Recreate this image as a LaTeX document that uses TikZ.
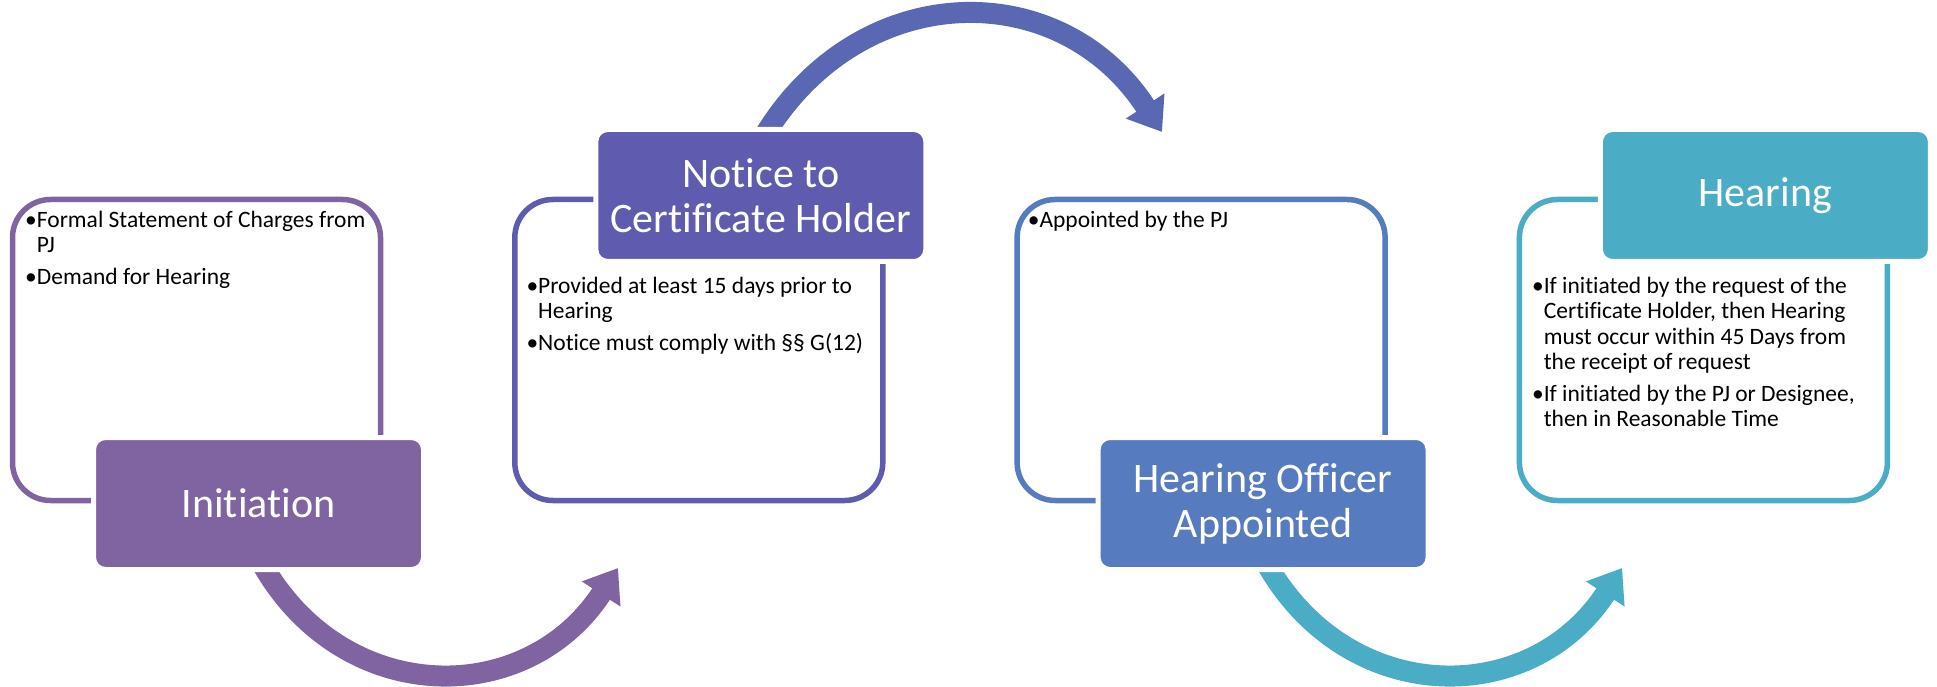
\documentclass[tikz,border=0pt]{standalone}
\usepackage{fontspec}
\setmainfont[Ligatures=NoCommon]{Carlito}
\usepackage{xcolor}
\usetikzlibrary{positioning, arrows.meta, backgrounds}
\definecolor{cinit}{HTML}{8064A2}
\definecolor{cnotice}{HTML}{5F5BAE}
\definecolor{carrow}{HTML}{5A68B4}
\definecolor{cofficer}{HTML}{567BBE}
\definecolor{chear}{HTML}{4BACC6}

\begin{document}
\begin{tikzpicture}[x=1pt, y=1pt,
    panel/.style={draw, line width=5.5pt, rounded corners=38pt,
        minimum width=368pt, minimum height=301pt, outer sep=0pt, inner sep=0pt},
    head/.style={draw=white, line width=5pt, rounded corners=12pt,
        minimum width=330pt, minimum height=132pt, outer sep=0pt, inner sep=4pt,
        text=white, align=center, font=\fontsize{42}{45}\selectfont},
    items/.style={anchor=north west, inner sep=0pt, align=left,
        font=\fontsize{23.5}{25.5}\selectfont},
    flow/.style={line width=21pt, -{Triangle[width=44pt, length=31pt]}}]
    \useasboundingbox (0,0) rectangle (1937,686);
        \node[panel, draw=cinit] (a) at (196.5,336) {};
        \node[panel, draw=cnotice] [right = 134.3pt of a] (b) {};
        \node[panel, draw=cofficer] [right = 134.3pt of b] (c) {};
        \node[panel, draw=chear] [right = 134.3pt of c] (d) {};
        \node[items] (atext) at ([shift={(12.5,-11)}]a.north west)
            {•Formal Statement of Charges from\\ \phantom{•}PJ\\[6pt]
             •Demand for Hearing};
        \node[items] (btext) at ([shift={(11.5,-77)}]b.north west)
            {•Provided at least 15 days prior to\\ \phantom{•}Hearing\\[6pt]
             •Notice must comply with §§ G(12)};
        \node[items] (ctext) at ([shift={(10.5,-11)}]c.north west)
            {•Appointed by the PJ};
        \node[items] (dtext) at ([shift={(12.5,-77)}]d.north west)
            {•If initiated by the request of the\\
             \phantom{•}Certificate Holder, then Hearing\\
             \phantom{•}must occur within 45 Days from\\
             \phantom{•}the receipt of request\\[6pt]
             •If initiated by the PJ or Designee,\\
             \phantom{•}then in Reasonable Time};
        \node[head, fill=cinit] (init) at ([shift={(62,-153.5)}]a.center) {Initiation};
        \node[head, fill=cnotice] (notice) at ([shift={(62,154.5)}]b.center) {Notice to\\Certificate Holder};
        \node[head, fill=cofficer] (officer) at ([shift={(62,-153.5)}]c.center) {Hearing Officer\\Appointed};
        \node[head, fill=chear] (hearing) at ([shift={(62,154.5)}]d.center) {Hearing};
        \coordinate (tipa) at ([shift={(359.5,1.5)}]init.south);
        \coordinate (tipb) at ([shift={(401.2,-2.5)}]notice.north);
        \coordinate (tipc) at ([shift={(359,1.5)}]officer.south);
    \begin{scope}[on background layer]
        \fill[white] (0,0) rectangle (1937,686);
        \draw[flow, cinit] ([yshift=12pt]init.south) to[out=-62, in=237, distance=170pt] (tipa);
        \draw[flow, carrow] ([yshift=-12pt]notice.north) to[out=60, in=123, distance=189pt] (tipb);
        \draw[flow, chear] ([yshift=12pt]officer.south) to[out=-62, in=237, distance=170pt] (tipc);
    \end{scope}
\end{tikzpicture}
\end{document}
